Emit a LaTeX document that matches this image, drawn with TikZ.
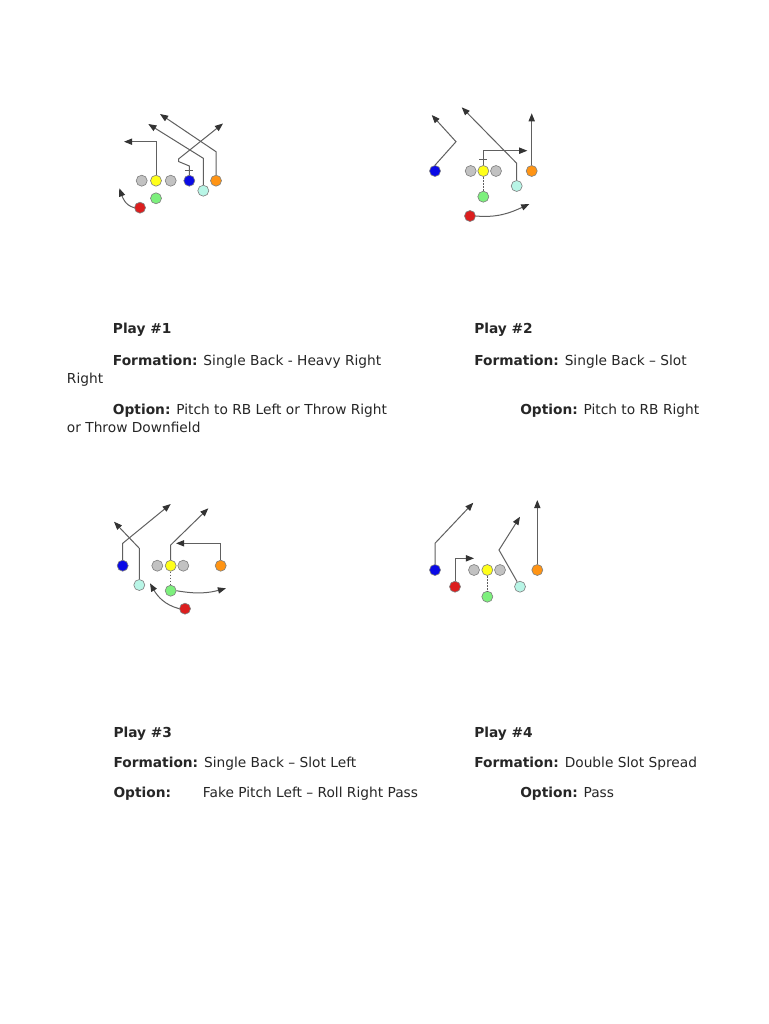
\documentclass[tikz,border=0pt]{standalone}
\usepackage{fontspec}
\setmainfont{DejaVu Sans}
\usepackage{tikz}
\usetikzlibrary{arrows.meta}
\definecolor{linegray}{HTML}{C2C2C2}
\definecolor{qbyellow}{HTML}{FFFF1A}
\definecolor{wrblue}{HTML}{0A0AE6}
\definecolor{wrorange}{HTML}{FF9414}
\definecolor{slotcyan}{HTML}{B8F5E6}
\definecolor{rbgreen}{HTML}{7DF07D}
\definecolor{fbred}{HTML}{DC1E1E}
\definecolor{routegray}{HTML}{606060}
\definecolor{txt}{HTML}{262626}

\begin{document}
\begin{tikzpicture}[scale=0.2812]
    \tikzstyle{every node}+=[inner sep=0pt]
    \tikzstyle{player}=[circle, minimum size=8.8pt, line width=0.5pt, draw=black!50]
    \tikzstyle{route}=[draw=routegray, line width=0.8pt]
    \tikzstyle{runto}=[route, -{Triangle[length=6.5pt,width=5pt,color=black!80,fill=black!80]}]
    \tikzstyle{handoff}=[route, line width=0.6pt, dash pattern=on 1.4pt off 1pt]
    \tikzstyle{label}=[anchor=base west, text=txt, font=\fontsize{11pt}{13pt}\selectfont]
    \useasboundingbox [fill=white] (0,0) rectangle (76.8,-102.4);
    % play 1
    \draw (14.17,-18.07) node [player, fill=linegray] (grlA) {};
    \draw (15.6,-18.07) node [player, fill=qbyellow] (yelA) {};
    \draw (17.07,-18.07) node [player, fill=linegray] (grrA) {};
    \draw (18.93,-18.07) node [player, fill=wrblue] (bluA) {};
    \draw (21.6,-18.07) node [player, fill=wrorange] (oraA) {};
    \draw (20.33,-19.07) node [player, fill=slotcyan] (cyaA) {};
    \draw (15.6,-19.83) node [player, fill=rbgreen] (greA) {};
    \draw (14.0,-20.77) node [player, fill=fbred] (redA) {};
    \coordinate (tipYA) at (12.4,-14.17);
    \coordinate (tipOA) at (16.0,-11.4);
    \coordinate (tipCA) at (14.83,-12.4);
    \coordinate (tipBA) at (22.3,-12.35);
    \coordinate (tipRA) at (11.93,-18.83);
    \draw [runto] (yelA.north) |- (tipYA);
    \draw [runto] (oraA.north) -- (21.6,-15.17) -- (tipOA);
    \draw [runto] (cyaA.north) -- (20.33,-15.83) -- (tipCA);
    \draw [route] (bluA.north) -- (18.93,-17.07);
    \draw [route] (18.53,-17.07) -- (19.33,-17.07);
    \draw [runto] (18.93,-17.07) -- (18.93,-16.6) -- (17.85,-16.15) -- (17.85,-15.9) -- (tipBA);
    \draw [runto] (redA.west) to [out=165,in=-70] (tipRA);
    % play 2
    \draw (43.5,-17.1) node [player, fill=wrblue] (bluB) {};
    \draw (47.07,-17.1) node [player, fill=linegray] (grlB) {};
    \draw (48.33,-17.1) node [player, fill=qbyellow] (yelB) {};
    \draw (49.6,-17.1) node [player, fill=linegray] (grrB) {};
    \draw (53.17,-17.1) node [player, fill=wrorange] (oraB) {};
    \draw (51.67,-18.6) node [player, fill=slotcyan] (cyaB) {};
    \draw (48.33,-19.67) node [player, fill=rbgreen] (greB) {};
    \draw (47.0,-21.6) node [player, fill=fbred] (redB) {};
    \coordinate (tipBB) at (43.17,-11.5);
    \coordinate (tipCB) at (46.17,-10.73);
    \coordinate (tipYB) at (52.73,-15.07);
    \coordinate (tipOB) at (53.17,-11.33);
    \coordinate (tipRB) at (52.93,-20.4);
    \draw [runto] (bluB.north) -- (45.6,-14.17) -- (tipBB);
    \draw [runto] (cyaB.north) -- (51.67,-16.33) -- (tipCB);
    \draw [runto] (yelB.north) |- (tipYB);
    \draw [route] (47.93,-16.0) -- (48.73,-16.0);
    \draw [runto] (oraB.north) -- (tipOB);
    \draw [handoff] (yelB.south) -- (greB.north);
    \draw [runto] (redB.east) to [out=-5,in=205] (tipRB);
    % play 3
    \draw (12.27,-56.57) node [player, fill=wrblue] (bluC) {};
    \draw (15.73,-56.57) node [player, fill=linegray] (grlC) {};
    \draw (17.07,-56.57) node [player, fill=qbyellow] (yelC) {};
    \draw (18.33,-56.57) node [player, fill=linegray] (grrC) {};
    \draw (22.07,-56.57) node [player, fill=wrorange] (oraC) {};
    \draw (13.93,-58.5) node [player, fill=slotcyan] (cyaC) {};
    \draw (17.07,-59.07) node [player, fill=rbgreen] (greC) {};
    \draw (18.5,-60.87) node [player, fill=fbred] (redC) {};
    \coordinate (tipBC) at (17.07,-50.4);
    \coordinate (tipCC) at (11.4,-52.17);
    \coordinate (tipYC) at (20.83,-50.83);
    \coordinate (tipOC) at (17.6,-54.33);
    \coordinate (tipGC) at (22.6,-58.83);
    \coordinate (tipRC) at (15.0,-58.33);
    \draw [runto] (bluC.north) -- (12.27,-54.33) -- (tipBC);
    \draw [runto] (cyaC.north) -- (13.93,-54.83) -- (tipCC);
    \draw [runto] (yelC.north) -- (17.07,-54.5) -- (tipYC);
    \draw [runto] (oraC.north) |- (tipOC);
    \draw [handoff] (yelC.south) -- (greC.north);
    \draw [runto] (greC.east) to [out=-10,in=195] (tipGC);
    \draw [runto] (redC.west) to [out=165,in=-60] (tipRC);
    % play 4
    \draw (43.5,-57.0) node [player, fill=wrblue] (bluD) {};
    \draw (45.5,-58.67) node [player, fill=fbred] (redD) {};
    \draw (47.4,-57.0) node [player, fill=linegray] (grlD) {};
    \draw (48.73,-57.0) node [player, fill=qbyellow] (yelD) {};
    \draw (50.0,-57.0) node [player, fill=linegray] (grrD) {};
    \draw (52.0,-58.67) node [player, fill=slotcyan] (cyaD) {};
    \draw (53.73,-57.0) node [player, fill=wrorange] (oraD) {};
    \draw (48.73,-59.67) node [player, fill=rbgreen] (greD) {};
    \coordinate (tipBD) at (47.33,-50.27);
    \coordinate (tipRD) at (47.4,-55.83);
    \coordinate (tipCD) at (52.0,-51.67);
    \coordinate (tipOD) at (53.73,-50.0);
    \draw [runto] (bluD.north) -- (43.5,-54.33) -- (tipBD);
    \draw [runto] (redD.north) |- (tipRD);
    \draw [runto] (cyaD.120) -- (49.9,-55.0) -- (tipCD);
    \draw [runto] (oraD.north) -- (tipOD);
    \draw [handoff] (yelD.south) -- (greD.north);
    % texts
    \draw (11.27,-33.4) node [label] (playA) {\textbf{Play \#1}};
    \draw (11.27,-36.5) node [label] (formA) {\textbf{Formation:} Single Back - Heavy Right};
    \draw (6.67,-38.35) node [label] (formA2) {Right};
    \draw (11.27,-41.45) node [label] (optA) {\textbf{Option:} Pitch to RB Left or Throw Right};
    \draw (6.67,-43.25) node [label] (optA2) {or Throw Downfield};
    \draw (47.4,-33.4) node [label] (playB) {\textbf{Play \#2}};
    \draw (47.4,-36.5) node [label] (formB) {\textbf{Formation:} Single Back – Slot};
    \draw (52.0,-41.45) node [label] (optB) {\textbf{Option:} Pitch to RB Right};
    \draw (11.33,-73.7) node [label] (playC) {\textbf{Play \#3}};
    \draw (11.33,-76.7) node [label] (formC) {\textbf{Formation:} Single Back – Slot Left};
    \draw (11.33,-79.7) node [label] (optC) {\textbf{Option:}};
    \draw (20.27,-79.7) node [label] (optC2) {Fake Pitch Left – Roll Right Pass};
    \draw (47.4,-73.7) node [label] (playD) {\textbf{Play \#4}};
    \draw (47.4,-76.7) node [label] (formD) {\textbf{Formation:} Double Slot Spread};
    \draw (52.0,-79.7) node [label] (optD) {\textbf{Option:} Pass};
\end{tikzpicture}
\end{document}
